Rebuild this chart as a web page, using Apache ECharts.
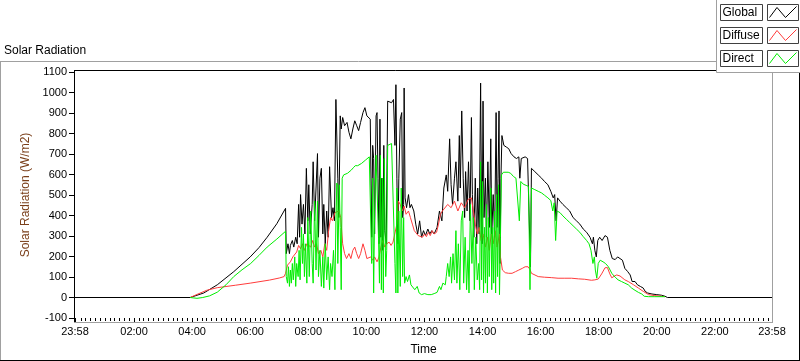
<!DOCTYPE html>
<html><head><meta charset="utf-8">
<script src="https://cdn.jsdelivr.net/npm/echarts@6/dist/echarts.min.js"></script>
<style>html,body{margin:0;padding:0;background:#fff}#c{width:800px;height:361px}</style>
</head><body><div id="c"></div>
<script>
// x axis: minutes since midnight (23:58 of previous day = -2, 23:58 = 1438)
const xTickMinutes = [-2,120,240,360,480,600,720,840,960,1080,1200,1320,1438];
const xTickLabels = ['23:58','02:00','04:00','06:00','08:00','10:00','12:00','14:00','16:00','18:00','20:00','22:00','23:58'];
const yMin = -100, yMax = 1100, yStep = 100;
const seriesNames = ['Global','Diffuse','Direct'];
const seriesColors = ['#000000','#ff3c3c','#00ee00'];

// [minute, W/m2]
const globalData = [[-2,0],[236,0],[240,3],[264,22],[292,62],[326,126],[360,198],[378,243],[395,294],[415,360],[433,435],[434.5,214],[438,262],[441,214],[443,254],[447,278],[450,246],[454,294],[457,262],[460,454],[462,294],[464,502],[467,358],[470,454],[473,310],[476,630],[479,374],[481,550],[484,310],[488,454],[490,662],[493,374],[496,534],[499,702],[501,294],[504,582],[507,630],[510,310],[512,454],[515,262],[518,422],[521,294],[524,638],[528,390],[531,438],[534,374],[537,966],[541,582],[543,390],[546,886],[548,822],[551,878],[555,838],[560,854],[564,806],[568,774],[572,822],[576,862],[580,838],[584,814],[588,854],[593,902],[597,926],[601,886],[605,878],[608,870],[611,294],[613,742],[615,678],[617,310],[620,886],[622,902],[624,582],[626,262],[628,870],[630,294],[632,582],[634,230],[636,742],[638,326],[641,262],[644,958],[648,966],[652,950],[656,966],[659,742],[661,1038],[663,582],[665,262],[667,582],[670,870],[673,902],[675,390],[677,454],[678,1022],[680,486],[683,438],[687,502],[690,438],[693,454],[698,422],[702,358],[706,310],[710,374],[714,294],[718,326],[722,302],[727,334],[731,310],[735,326],[740,310],[746,342],[751,422],[756,374],[760,534],[765,598],[768,518],[772,774],[775,550],[778,454],[782,582],[785,662],[789,470],[792,790],[794,534],[797,910],[800,582],[803,390],[805,614],[808,422],[811,662],[814,374],[817,878],[819,502],[822,294],[825,582],[828,262],[830,534],[833,310],[836,1046],[838,422],[839,262],[841,958],[843,390],[846,582],[848,294],[851,662],[854,342],[857,774],[859,310],[862,502],[865,294],[868,902],[870,342],[872,582],[874,910],[876,166],[878,582],[880,790],[884,742],[889,734],[894,726],[899,702],[905,686],[910,678],[915,686],[917,582],[920,678],[924,678],[928,686],[933,678],[937,670],[939,150],[941,630],[948,614],[955,598],[962,582],[968,566],[975,550],[981,518],[986,486],[989,502],[992,374],[995,486],[1000,470],[1006,454],[1013,438],[1020,422],[1027,390],[1034,374],[1041,358],[1048,334],[1055,318],[1062,294],[1067,262],[1069,294],[1072,230],[1075,198],[1078,278],[1082,294],[1087,278],[1093,302],[1098,294],[1103,230],[1108,190],[1114,185],[1119,198],[1124,190],[1129,182],[1134,142],[1140,126],[1145,110],[1149,78],[1155,78],[1160,62],[1166,54],[1172,46],[1176,30],[1181,22],[1190,17],[1200,14],[1210,11],[1217,6],[1222,0],[1438,0]];

const diffuseData = [[236,0],[250,15],[270,35],[292,48],[330,60],[360,70],[400,85],[420,95],[430,102],[433,118],[437,158],[440,166],[443,174],[448,198],[452,190],[456,222],[460,254],[464,238],[468,262],[472,230],[477,262],[481,254],[485,246],[489,278],[493,246],[497,262],[501,214],[506,230],[510,198],[514,262],[518,230],[522,326],[526,390],[530,374],[535,414],[539,406],[543,422],[547,390],[551,262],[555,214],[559,190],[564,214],[568,190],[572,230],[576,246],[580,214],[584,190],[588,214],[593,262],[597,230],[601,190],[605,182],[609,198],[613,182],[617,198],[622,174],[626,198],[630,246],[634,278],[638,246],[642,262],[647,270],[651,254],[655,270],[659,262],[663,358],[666,470],[670,454],[674,422],[678,446],[682,406],[687,422],[691,390],[695,358],[699,326],[703,318],[707,302],[711,310],[716,294],[720,310],[724,297],[728,318],[732,302],[736,326],[740,310],[745,318],[749,358],[753,406],[757,422],[761,430],[768,454],[775,438],[782,470],[789,422],[796,462],[803,438],[810,478],[817,486],[821,494],[825,358],[829,310],[833,342],[837,278],[841,310],[846,246],[850,294],[854,230],[858,310],[862,262],[866,326],[870,246],[875,310],[877,198],[881,134],[887,121],[894,118],[901,118],[908,126],[915,134],[922,142],[928,150],[934,150],[938,137],[941,118],[945,110],[955,102],[968,99],[982,97],[996,94],[1010,94],[1024,94],[1038,91],[1051,89],[1065,84],[1072,86],[1079,90],[1086,115],[1093,145],[1098,146],[1103,115],[1107,96],[1112,104],[1117,110],[1124,105],[1134,86],[1141,78],[1152,62],[1162,46],[1172,30],[1183,14],[1196,9],[1210,6],[1217,4]];

const directData = [[236,0],[250,-4],[262,0],[276,8],[292,26],[310,62],[326,102],[343,135],[361,166],[378,205],[395,246],[415,285],[433,323],[434.5,102],[437,70],[439,150],[441,54],[443,134],[445,70],[447,166],[449,86],[452,198],[454,54],[456,166],[459,102],[461,230],[463,86],[466,342],[468,166],[470,310],[472,102],[474,262],[477,70],[479,390],[482,102],[485,422],[488,166],[490,70],[493,470],[496,134],[499,470],[501,102],[504,230],[507,54],[510,198],[512,46],[515,262],[518,86],[521,198],[524,38],[526,166],[529,102],[532,230],[535,38],[537,374],[539,558],[541,166],[544,550],[546,342],[548,38],[550,582],[553,598],[557,595],[561,606],[565,614],[569,622],[573,633],[577,643],[582,643],[586,649],[590,654],[594,662],[598,670],[602,678],[606,686],[609,691],[611,166],[613,582],[615,22],[617,422],[620,694],[623,686],[625,294],[627,70],[629,694],[631,38],[633,582],[635,22],[637,678],[640,102],[642,230],[644,742],[648,748],[652,751],[656,750],[659,166],[661,22],[663,534],[665,22],[667,422],[670,54],[672,534],[675,102],[677,390],[679,70],[682,102],[685,78],[689,110],[692,62],[696,70],[700,38],[705,54],[709,22],[714,14],[720,19],[727,14],[734,14],[740,19],[746,25],[751,54],[754,38],[758,70],[763,62],[765,102],[768,166],[771,102],[774,198],[776,70],[779,214],[782,86],[785,326],[787,70],[790,262],[793,38],[796,374],[799,422],[801,70],[804,294],[807,38],[810,230],[812,22],[815,454],[818,166],[821,390],[823,38],[826,294],[829,86],[832,166],[834,38],[836,662],[838,86],[840,566],[842,22],[844,342],[846,70],[848,454],[850,22],[852,390],[854,102],[857,534],[859,38],[861,342],[863,70],[865,422],[867,22],[869,502],[871,102],[873,550],[875,14],[877,294],[879,598],[883,611],[887,614],[893,611],[898,606],[904,590],[909,582],[913,574],[916,374],[919,566],[924,553],[930,547],[935,542],[938,38],[941,534],[948,526],[955,518],[962,510],[968,499],[975,486],[981,473],[985,422],[988,462],[991,278],[994,422],[1000,414],[1006,398],[1013,382],[1020,366],[1027,350],[1034,334],[1041,318],[1048,297],[1055,278],[1060,262],[1064,230],[1068,166],[1071,198],[1073,134],[1076,94],[1079,166],[1083,182],[1089,174],[1094,166],[1100,150],[1107,118],[1114,99],[1120,86],[1127,78],[1134,70],[1141,62],[1148,46],[1155,35],[1162,25],[1169,17],[1174,6],[1183,4],[1196,4],[1217,4]];

const FONT = '"Liberation Sans", Arial, sans-serif';
const minorTicks = [];
for (let m = 10; m < 1438; m += 10) if (m % 120 !== 0) minorTicks.push(m);

function fmtX(v) {
  const i = xTickMinutes.indexOf(v);
  return i >= 0 ? xTickLabels[i] : '';
}

const chart = echarts.init(document.getElementById('c'), null, {renderer: 'canvas'});

// frame & legend decorations
const gfx = [];
function ln(x1, y1, x2, y2, c, z) {
  gfx.push({type: 'line', silent: true, z: z || 5, shape: {x1, y1, x2, y2}, style: {stroke: c, lineWidth: 1}});
}
ln(0, 61.5, 717, 61.5, '#a0a0a0');
ln(0.5, 61, 0.5, 361, '#a0a0a0');
ln(0, 360.5, 800, 360.5, '#000');
ln(799.5, 72, 799.5, 361, '#000');
ln(74.5, 70.5, 717, 70.5, '#000');
ln(74.5, 70, 74.5, 323, '#000');
ln(772.5, 72, 772.5, 323, '#a0a0a0');
ln(74, 322.5, 773, 322.5, '#a0a0a0');
// legend panel
gfx.push({type: 'rect', silent: true, z: 20, shape: {x: 717, y: 0, width: 83, height: 72}, style: {fill: '#fff'}});
ln(716.5, 0, 716.5, 72.5, '#a0a0a0', 21);
ln(716.5, 72.5, 800, 72.5, '#a0a0a0', 21);
seriesNames.forEach((name, i) => {
  const y0 = 4 + i * 23;
  gfx.push({type: 'rect', silent: true, z: 22, shape: {x: 720.5, y: y0 + 0.5, width: 42, height: 16}, style: {fill: '#fff', stroke: '#404040', lineWidth: 1}});
  gfx.push({type: 'text', silent: true, z: 23, x: 722.5, y: y0 + 9, style: {text: name, fill: '#000', font: '12px ' + FONT, verticalAlign: 'middle', align: 'left'}});
  gfx.push({type: 'rect', silent: true, z: 22, shape: {x: 767.5, y: y0 + 0.5, width: 31, height: 16}, style: {fill: '#fff', stroke: '#404040', lineWidth: 1}});
  gfx.push({type: 'polyline', silent: true, z: 23, shape: {points: [[769.5, y0 + 13.5], [777, y0 + 3.5], [785.5, y0 + 13.5], [796.5, y0 + 2.5]]}, style: {stroke: seriesColors[i], fill: null, lineWidth: 1}});
});

const option = {
  animation: false,
  backgroundColor: '#fff',
  title: {text: 'Solar Radiation', left: 4, top: 45, padding: 0,
    textStyle: {fontSize: 12, fontWeight: 'normal', color: '#000', fontFamily: FONT}},
  grid: {left: 75, right: 28, top: 72, bottom: 39, containLabel: false},
  xAxis: [{
    type: 'value', min: -2, max: 1438, position: 'bottom',
    name: 'Time', nameLocation: 'middle', nameGap: 26,
    nameTextStyle: {fontSize: 12, color: '#000', fontFamily: FONT},
    axisLine: {show: false, onZero: false},
    splitLine: {show: false},
    axisTick: {show: true, customValues: xTickMinutes, length: 5, lineStyle: {color: '#000'}},
    axisLabel: {customValues: xTickMinutes, formatter: fmtX, fontSize: 11, color: '#000', fontFamily: FONT, margin: 8}
  }, {
    type: 'value', min: -2, max: 1438, position: 'bottom', gridIndex: 0,
    axisLine: {show: false, onZero: false}, splitLine: {show: false},
    axisTick: {show: true, customValues: minorTicks, length: 3, lineStyle: {color: '#000'}},
    axisLabel: {show: false}
  }],
  yAxis: {
    type: 'value', min: yMin, max: yMax, interval: yStep,
    name: 'Solar Radiation (W/m2)', nameLocation: 'middle', nameGap: 25,
    nameTextStyle: {fontSize: 12, color: '#7a3f1a', fontFamily: FONT},
    axisLine: {show: false, onZero: false}, splitLine: {show: false},
    axisTick: {show: true, length: 6, lineStyle: {color: '#000'}},
    axisLabel: {fontSize: 11, color: '#000', fontFamily: FONT, margin: 8, formatter: v => String(v)}
  },
  series: [
    {name: seriesNames[0], type: 'line', data: globalData, showSymbol: false, symbol: 'none', lineStyle: {color: seriesColors[0], width: 1}, z: 2},
    {name: seriesNames[1], type: 'line', data: diffuseData, showSymbol: false, symbol: 'none', lineStyle: {color: seriesColors[1], width: 1}, z: 3},
    {name: seriesNames[2], type: 'line', data: directData, showSymbol: false, symbol: 'none', lineStyle: {color: seriesColors[2], width: 1}, z: 4}
  ],
  graphic: gfx
};
chart.setOption(option);
</script>
</body></html>
